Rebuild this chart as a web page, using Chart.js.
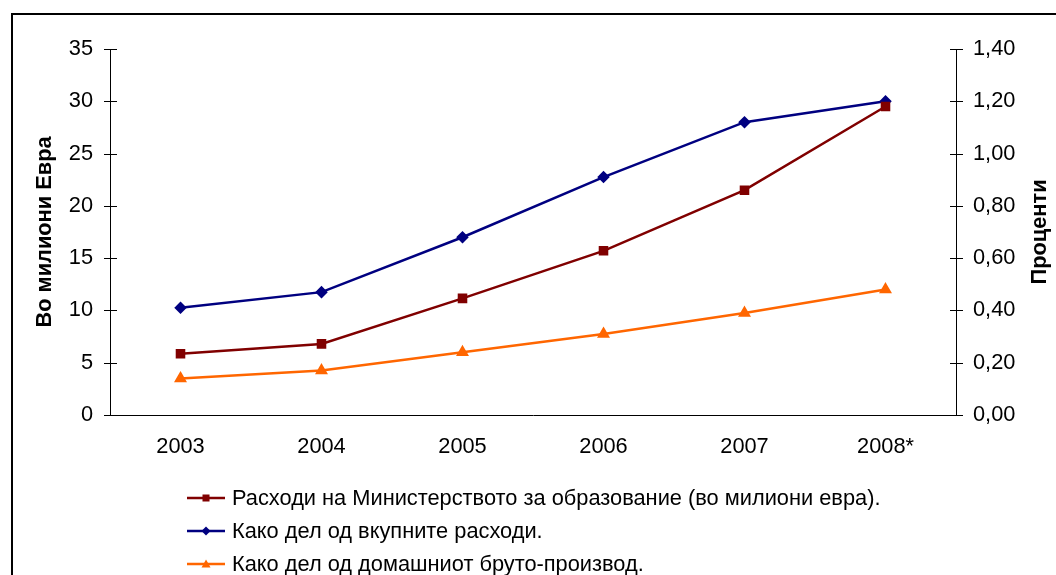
<!DOCTYPE html>
<html>
<head>
<meta charset="utf-8">
<script src="https://cdn.jsdelivr.net/npm/chart.js@4.4.1/dist/chart.umd.min.js"></script>
<style>
  html, body { margin: 0; padding: 0; background: #fff; }
  #wrap { position: relative; width: 1056px; height: 575px; overflow: hidden; }
  #frame { position: absolute; left: 11px; top: 13px; width: 1100px; height: 700px;
           border-left: 2px solid #000; border-top: 2px solid #000; box-sizing: border-box; }
  #legend { position: absolute; left: 187px; top: 481px; font-family: "Liberation Sans", Arial, sans-serif;
            font-size: 21.8px; color: #000; }
  #legend div { height: 33px; display: flex; align-items: center; }
  #legend svg { margin-right: 7px; }
</style>
</head>
<body>
<div id="wrap">
  <div id="frame"></div>
  <canvas id="eduChart" width="1056" height="575"></canvas>
  <div id="legend"></div>
</div>
<script>
// data
var years = ['2003', '2004', '2005', '2006', '2007', '2008*'];
var spending = [5.85, 6.8, 11.15, 15.7, 21.5, 29.5];          // во милиони евра (left axis)
var shareOfTotal = [0.41, 0.47, 0.68, 0.91, 1.12, 1.20];       // % (right axis)
var shareOfGdp = [0.14, 0.17, 0.24, 0.31, 0.39, 0.48];         // % (right axis)
var leftTicks = [0, 5, 10, 15, 20, 25, 30, 35];
var rightTicks = [0, 0.2, 0.4, 0.6, 0.8, 1.0, 1.2, 1.4];

var seriesNames = [
  'Расходи на Министерството за образование (во милиони евра).',
  'Како дел од вкупните расходи.',
  'Како дел од домашниот бруто-производ.'
];

var font = '"Liberation Sans", Arial, sans-serif';
var fontSize = 21.8;

// ticks crossing the axis line, and both axis titles read bottom-to-top
var axisExtras = {
  id: 'axisExtras',
  afterDraw: function(chart) {
    var ctx = chart.ctx;
    ctx.save();
    ctx.strokeStyle = '#000';
    ctx.lineWidth = 1;
    ['y', 'y1'].forEach(function(id) {
      var s = chart.scales[id];
      var x = id === 'y' ? s.right : s.left;
      s.ticks.forEach(function(t, i) {
        var py = Math.round(s.getPixelForTick(i)) + 0.5;
        ctx.beginPath();
        ctx.moveTo(x - 6, py);
        ctx.lineTo(x + 7, py);
        ctx.stroke();
      });
    });
    ctx.restore();

    var a = chart.chartArea;
    var cy = (a.top + a.bottom) / 2;
    [[45, 'Во милиони Евра'], [1040, 'Проценти']].forEach(function(t) {
      ctx.save();
      ctx.fillStyle = '#000';
      ctx.font = 'bold ' + fontSize + 'px ' + font;
      ctx.textAlign = 'center';
      ctx.textBaseline = 'middle';
      ctx.translate(t[0], cy);
      ctx.rotate(-Math.PI / 2);
      ctx.fillText(t[1], 0, 0);
      ctx.restore();
    });
  }
};

var ctx = document.getElementById('eduChart').getContext('2d');
var chart = new Chart(ctx, {
  type: 'line',
  data: {
    labels: years,
    datasets: [
      {
        label: seriesNames[0],
        data: spending,
        yAxisID: 'y',
        borderColor: '#800000',
        backgroundColor: '#800000',
        borderWidth: 2.5,
        pointStyle: 'rect',
        pointRadius: 5,
        tension: 0
      },
      {
        label: seriesNames[1],
        data: shareOfTotal,
        yAxisID: 'y1',
        borderColor: '#000080',
        backgroundColor: '#000080',
        borderWidth: 2.5,
        pointStyle: 'rectRot',
        pointRadius: 4.5,
        tension: 0
      },
      {
        label: seriesNames[2],
        data: shareOfGdp,
        yAxisID: 'y1',
        borderColor: '#FF6600',
        backgroundColor: '#FF6600',
        borderWidth: 2.5,
        pointStyle: 'triangle',
        pointRadius: 5,
        tension: 0
      }
    ]
  },
  options: {
    responsive: false,
    animation: false,
    layout: { padding: { top: 49, bottom: 115, left: 0, right: 0 } },
    plugins: {
      legend: { display: false },
      tooltip: { enabled: false }
    },
    scales: {
      x: {
        offset: true,
        grid: { display: false },
        border: { display: true, color: '#000', width: 1 },
        ticks: { color: '#000', font: { family: font, size: fontSize }, padding: 11, maxRotation: 0 },
        afterFit: function(s) { s.height = 45; }
      },
      y: {
        position: 'left',
        min: 0,
        max: 35,
        afterBuildTicks: function(s) { s.ticks = leftTicks.map(function(v) { return { value: v }; }); },
        grid: { display: false },
        border: { display: true, color: '#000', width: 1 },
        ticks: { color: '#000', font: { family: font, size: fontSize }, padding: 9 },
        afterFit: function(s) { s.width = 110; }
      },
      y1: {
        position: 'right',
        min: 0,
        max: 1.4,
        afterBuildTicks: function(s) { s.ticks = rightTicks.map(function(v) { return { value: v }; }); },
        grid: { display: false },
        border: { display: true, color: '#000', width: 1 },
        ticks: {
          color: '#000',
          font: { family: font, size: fontSize },
          padding: 9,
          callback: function(v) { return Number(v).toFixed(2).replace('.', ','); }
        },
        afterFit: function(s) { s.width = 100; }
      }
    }
  },
  plugins: [axisExtras]
});

// legend: one entry per row, line with the series marker
var legend = document.getElementById('legend');
var markers = [
  '<rect x="15.5" y="3.5" width="7" height="7"/>',
  '<polygon points="19,2.5 23.5,7 19,11.5 14.5,7"/>',
  '<polygon points="19,2.5 23.5,10.5 14.5,10.5"/>'
];
chart.data.datasets.forEach(function(ds, i) {
  var row = document.createElement('div');
  row.innerHTML = '<svg width="38" height="14"><line x1="0" y1="7" x2="38" y2="7" stroke="' + ds.borderColor +
    '" stroke-width="2.5"/><g fill="' + ds.borderColor + '">' + markers[i] + '</g></svg>' +
    '<span>' + ds.label + '</span>';
  legend.appendChild(row);
});
</script>
</body>
</html>
